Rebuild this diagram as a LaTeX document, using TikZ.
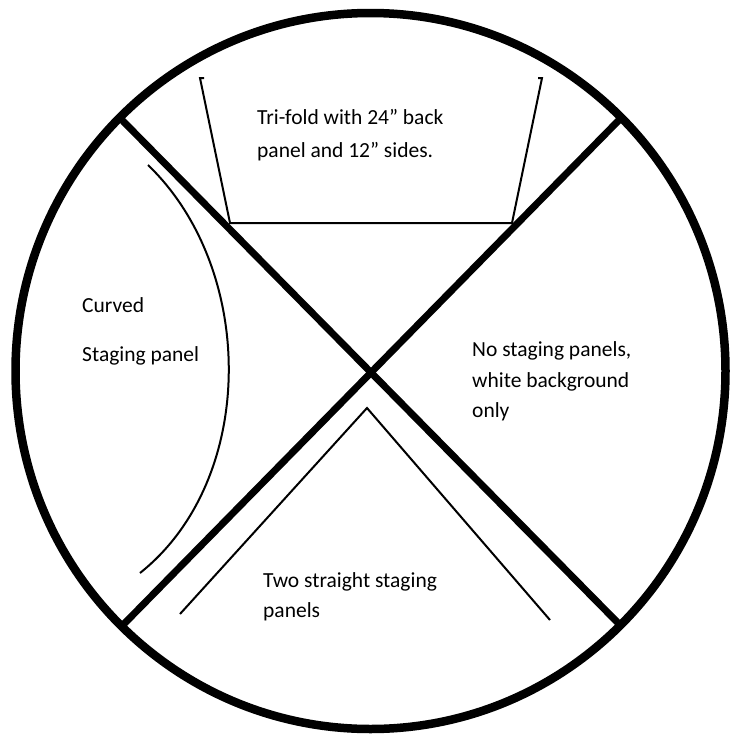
\documentclass[tikz,border=0pt]{standalone}
\usepackage{fontspec}
\setmainfont{Carlito}
\usetikzlibrary{shapes.geometric}
\begin{document}
\begin{tikzpicture}[x=1pt,y=-1pt,
  rim/.style={line width=8.5pt},
  divider/.style={line width=7pt},
  panelline/.style={line width=2pt},
  label/.style={anchor=base west,inner sep=0pt,font=\fontsize{21.5}{24}\selectfont}]
\useasboundingbox (0,0) rectangle (734,734);
% outer circle
\node[draw,rim,ellipse,minimum width=710pt,minimum height=716pt,inner sep=0pt] (rimnode) at (370.5,371) {};
% X dividers
\coordinate (ul) at (120,118);
\coordinate (lr) at (621,626);
\coordinate (ur) at (622,117);
\coordinate (ll) at (121,627);
\draw[divider] (ul) -- (lr);
\draw[divider] (ur) -- (ll);
% tri-fold panel
\coordinate (tfa) at (204,78);
\coordinate (tfb) at (200,78);
\coordinate (tfc) at (230,223);
\coordinate (tfd) at (512,223);
\coordinate (tfe) at (542,78);
\coordinate (tff) at (538,78);
\draw[panelline] (tfa) -- (tfb) -- (tfc) -- (tfd) -- (tfe) -- (tff);
% curved panel
\coordinate (cva) at (148,165);
\coordinate (cvb) at (140,573);
\draw[panelline] (cva) .. controls (257,270) and (257,480) .. (cvb);
% two straight panels
\coordinate (spa) at (180,614);
\coordinate (spb) at (367,408);
\coordinate (spc) at (550,620);
\draw[panelline] (spa) -- (spb) -- (spc);
% labels
\node[label] (t1) at (257,124) {Tri-fold with 24” back};
\node[label] (t2) at (257,157) {panel and 12” sides.};
\node[label] (c1) at (82,312) {Curved};
\node[label] (c2) at (82,361) {Staging panel};
\node[label] (n1) at (472,356) {No staging panels,};
\node[label] (n2) at (472,387) {white background};
\node[label] (n3) at (472,417) {only};
\node[label] (s1) at (263,587) {Two straight staging};
\node[label] (s2) at (263,617) {panels};
\end{tikzpicture}
\end{document}
